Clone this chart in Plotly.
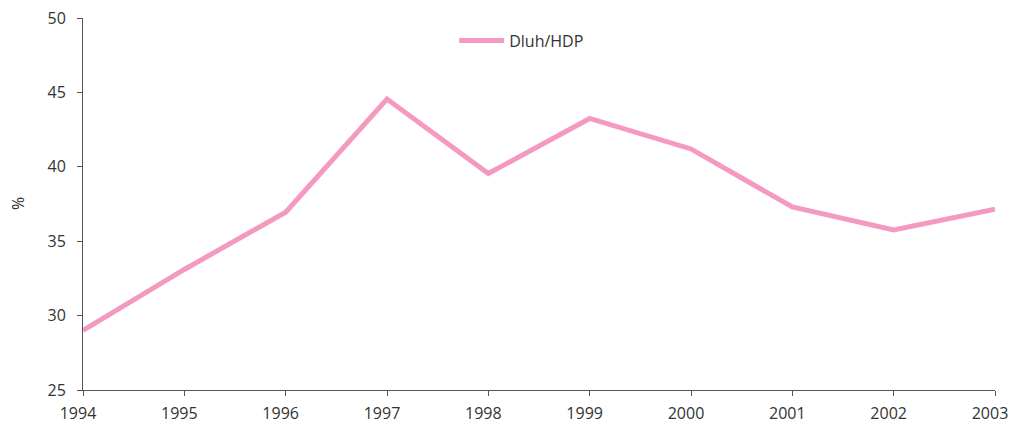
import plotly.graph_objects as go

years = [1994, 1995, 1996, 1997, 1998, 1999, 2000, 2001, 2002, 2003]
dluh_hdp = [29.0, 33.1, 36.95, 44.55, 39.55, 43.25, 41.2, 37.3, 35.75, 37.15]
series_name = "Dluh/HDP"
y_title = "%"
year_labels = [str(y) for y in years]

FONT = "Open Sans, sans-serif"

fig = go.Figure()
fig.add_trace(go.Scatter(x=years, y=dluh_hdp, mode="lines", name=series_name,
                         line=dict(color="#F49AC1", width=5), cliponaxis=False))

axis_common = dict(showline=True, linecolor="#555555", linewidth=1, ticks="outside",
                   ticklen=5, tickcolor="#555555", showgrid=False, zeroline=False,
                   automargin=False, tickfont=dict(family=FONT, size=16, color="#333333"))

fig.update_layout(
    width=1010, height=427,
    margin=dict(l=83, r=15, t=18, b=37, pad=0),
    plot_bgcolor="white", paper_bgcolor="white",
    font=dict(family=FONT, size=16, color="#333333"),
    showlegend=True,
    legend=dict(x=0.481, y=0.985, xanchor="center", yanchor="top", orientation="h",
                font=dict(family=FONT, size=16, color="#333333"), bgcolor="rgba(0,0,0,0)",
                itemwidth=45),
    xaxis=dict(range=[1994, 2003], tickmode="array", tickvals=years,
               ticktext=year_labels, ticklabelstandoff=4, ticklabelshift=-5,
               ticklabeloverflow="allow", **axis_common),
    yaxis=dict(range=[25, 50], tickmode="array", tickvals=[25, 30, 35, 40, 45, 50],
               ticklabelstandoff=8, **axis_common),
    annotations=[dict(text=y_title, xref="paper", yref="paper", x=0, y=0.5,
                      xanchor="center", yanchor="middle",
                      xshift=-65, textangle=-90, showarrow=False,
                      font=dict(family=FONT, size=16, color="#333333"))],
)

fig.write_html("out.html", config={"displayModeBar": False},
               post_script="document.body.style.margin='0';document.body.style.padding='0';")
